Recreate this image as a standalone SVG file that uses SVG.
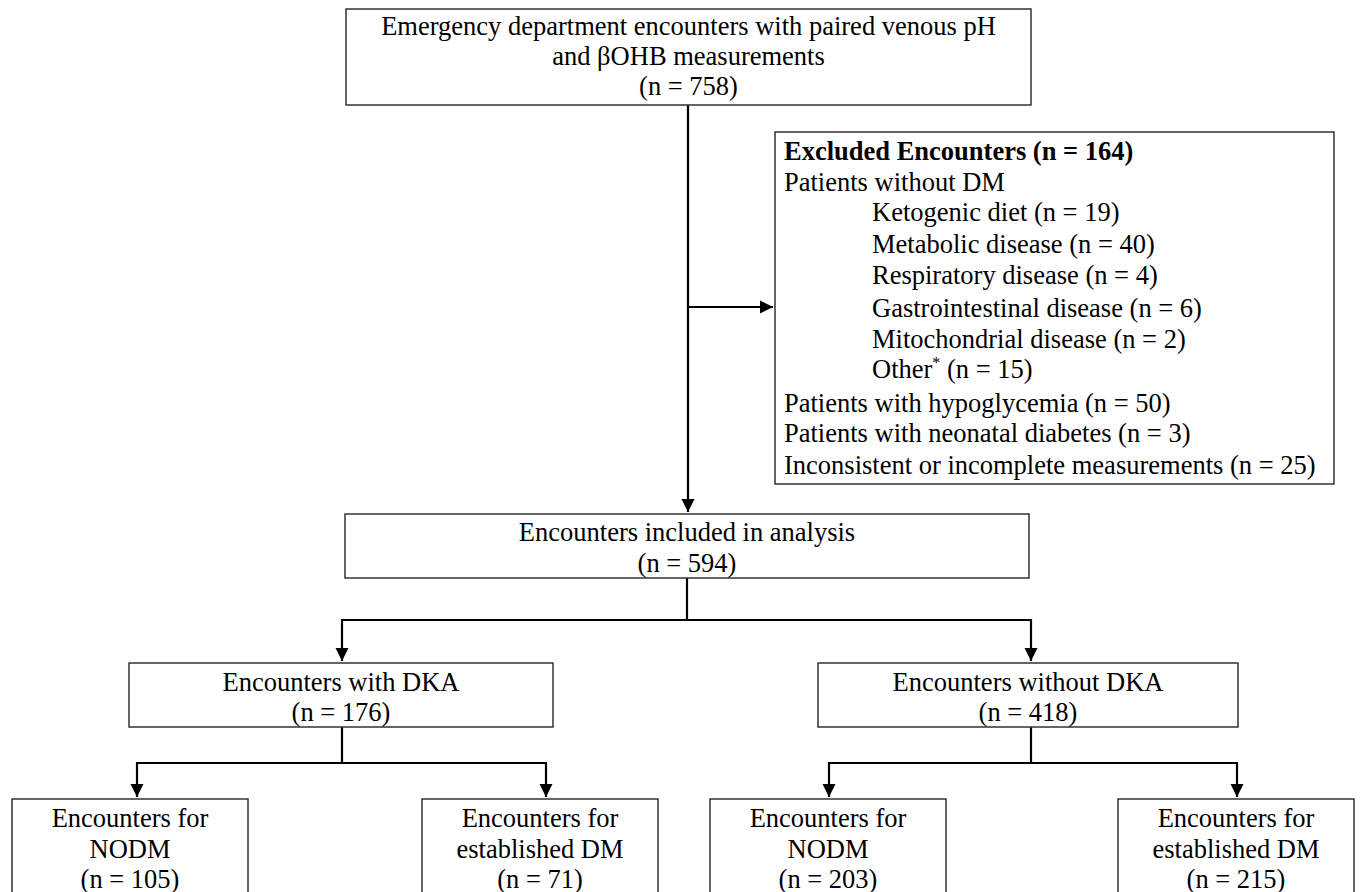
<svg xmlns="http://www.w3.org/2000/svg" width="1360" height="892" viewBox="0 0 1360 892">
<style>
  .box { fill: #ffffff; stroke: #333333; stroke-width: 1.5; }
  .t { font-family: "Liberation Serif", "Times New Roman", serif; font-size: 26.5px; fill: #000000; }
  .c { text-anchor: middle; }
  .b { font-weight: bold; }
  .conn { fill: none; stroke: #000000; stroke-width: 2.2; }
</style>
<defs>
  <marker id="arrow" markerUnits="userSpaceOnUse" markerWidth="14" markerHeight="14" viewBox="0 0 14 14" refX="13" refY="7" orient="auto">
    <path d="M0,0.5 L13,7 L0,13.5 Z" fill="#000000"/>
  </marker>
</defs>
<rect width="1360" height="892" fill="#ffffff"/>

<g id="connectors">
  <path class="conn" d="M688,105 L688,512" marker-end="url(#arrow)"/>
  <path class="conn" d="M688,307 L773,307" marker-end="url(#arrow)"/>
  <path class="conn" d="M687,578 L687,620"/>
  <path class="conn" d="M342,620 L1031,620"/>
  <path class="conn" d="M342,619 L342,661" marker-end="url(#arrow)"/>
  <path class="conn" d="M1031,619 L1031,661" marker-end="url(#arrow)"/>
  <path class="conn" d="M342,727 L342,763"/>
  <path class="conn" d="M137,763 L546,763"/>
  <path class="conn" d="M137,762 L137,797" marker-end="url(#arrow)"/>
  <path class="conn" d="M546,762 L546,797" marker-end="url(#arrow)"/>
  <path class="conn" d="M1031,727 L1031,763"/>
  <path class="conn" d="M829,763 L1237,763"/>
  <path class="conn" d="M829,762 L829,797" marker-end="url(#arrow)"/>
  <path class="conn" d="M1237,762 L1237,797" marker-end="url(#arrow)"/>
</g>

<g id="node-start">
  <rect class="box" x="346" y="9" width="685" height="96"/>
  <text class="t c" x="688.5" y="35">Emergency department encounters with paired venous pH</text>
  <text class="t c" x="688.5" y="65">and βOHB measurements</text>
  <text class="t c" x="688.5" y="95">(n = 758)</text>
</g>

<g id="node-excluded">
  <rect class="box" x="775" y="132" width="559" height="352"/>
  <text class="t b" x="784" y="160">Excluded Encounters (n = 164)</text>
  <text class="t" x="784" y="191">Patients without DM</text>
  <text class="t" x="872" y="221">Ketogenic diet (n = 19)</text>
  <text class="t" x="872" y="253">Metabolic disease (n = 40)</text>
  <text class="t" x="872" y="284">Respiratory disease (n = 4)</text>
  <text class="t" x="872" y="317">Gastrointestinal disease (n = 6)</text>
  <text class="t" x="872" y="348">Mitochondrial disease (n = 2)</text>
  <text class="t" x="872" y="378">Other<tspan font-size="16" dy="-10">*</tspan><tspan dy="10"> (n = 15)</tspan></text>
  <text class="t" x="784" y="412">Patients with hypoglycemia (n = 50)</text>
  <text class="t" x="784" y="442">Patients with neonatal diabetes (n = 3)</text>
  <text class="t" x="784" y="474">Inconsistent or incomplete measurements (n = 25)</text>
</g>

<g id="node-included">
  <rect class="box" x="345" y="514" width="684" height="64"/>
  <text class="t c" x="687" y="541">Encounters included in analysis</text>
  <text class="t c" x="687" y="572">(n = 594)</text>
</g>

<g id="node-dka">
  <rect class="box" x="129" y="663" width="424" height="64"/>
  <text class="t c" x="341" y="691">Encounters with DKA</text>
  <text class="t c" x="341" y="721">(n = 176)</text>
</g>

<g id="node-nodka">
  <rect class="box" x="818" y="663" width="420" height="64"/>
  <text class="t c" x="1028" y="691">Encounters without DKA</text>
  <text class="t c" x="1028" y="721">(n = 418)</text>
</g>

<g id="node-dka-nodm">
  <rect class="box" x="12" y="799" width="236" height="110"/>
  <text class="t c" x="130" y="827">Encounters for</text>
  <text class="t c" x="130" y="858">NODM</text>
  <text class="t c" x="130" y="888">(n = 105)</text>
</g>

<g id="node-dka-edm">
  <rect class="box" x="422" y="799" width="236" height="110"/>
  <text class="t c" x="540" y="827">Encounters for</text>
  <text class="t c" x="540" y="858">established DM</text>
  <text class="t c" x="540" y="888">(n = 71)</text>
</g>

<g id="node-nodka-nodm">
  <rect class="box" x="710" y="799" width="236" height="110"/>
  <text class="t c" x="828" y="827">Encounters for</text>
  <text class="t c" x="828" y="858">NODM</text>
  <text class="t c" x="828" y="888">(n = 203)</text>
</g>

<g id="node-nodka-edm">
  <rect class="box" x="1118" y="799" width="236" height="110"/>
  <text class="t c" x="1236" y="827">Encounters for</text>
  <text class="t c" x="1236" y="858">established DM</text>
  <text class="t c" x="1236" y="888">(n = 215)</text>
</g>
</svg>
